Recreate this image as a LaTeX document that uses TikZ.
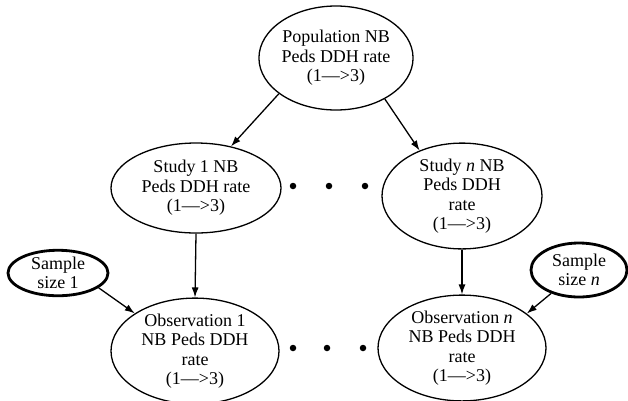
\documentclass[tikz,border=0pt]{standalone}
\usepackage{fontspec}
\setmainfont{Liberation Serif}
\usetikzlibrary{shapes.geometric,arrows.meta}
\tikzset{
  ell/.style={draw, ellipse, line width=1.3pt, inner sep=0pt, align=center,
    font=\fontsize{18}{19.5}\selectfont},
  thickell/.style={ell, line width=2.8pt},
  arr/.style={-{Latex[length=10pt,width=7pt]}, line width=1.3pt},
  dotn/.style={circle, fill=black, inner sep=0pt, minimum size=6.5pt}
}
\begin{document}
\begin{tikzpicture}[x=1pt,y=-1pt]
\useasboundingbox (0,0) rectangle (628,400);
\node[ell, minimum width=150pt, minimum height=104pt] (pop) at (336,58) {Population NB\\Peds DDH rate\\(1—>3)};
\node[ell, minimum width=170pt, minimum height=90pt] (s1) at (196,188) {Study 1 NB\\Peds DDH rate\\(1—>3)};
\node[ell, minimum width=160pt, minimum height=92pt] (sn) at (462,196) {Study \textit{n} NB\\Peds DDH\\rate\\(1—>3)};
\node[thickell, minimum width=100pt, minimum height=44pt] (ss1) at (58,273) {Sample\\size 1};
\node[thickell, minimum width=96pt, minimum height=54pt] (ssn) at (579,270) {Sample\\size \textit{n}};
\node[ell, minimum width=168pt, minimum height=94pt] (obs1) at (195,351) {Observation 1\\NB Peds DDH\\rate\\(1—>3)};
\node[ell, minimum width=168pt, minimum height=94pt] (obsn) at (462,348) {Observation \textit{n}\\NB Peds DDH\\rate\\(1—>3)};
\node[dotn] (d1) at (293,186) {};
\node[dotn] (d2) at (329,186) {};
\node[dotn] (d3) at (365,186) {};
\node[dotn] (d4) at (293,348) {};
\node[dotn] (d5) at (327,348) {};
\node[dotn] (d6) at (363,348) {};
\draw[arr] (pop.212) -- (s1.50);
\draw[arr] (pop.320) -- (sn.133);
\draw[arr] (s1.south) -- (obs1.north);
\draw[arr] (sn.south) -- (obsn.north);
\draw[arr] (ss1.340) -- (obs1.148);
\draw[arr] (ssn.220) -- (obsn.28);
\end{tikzpicture}
\end{document}
